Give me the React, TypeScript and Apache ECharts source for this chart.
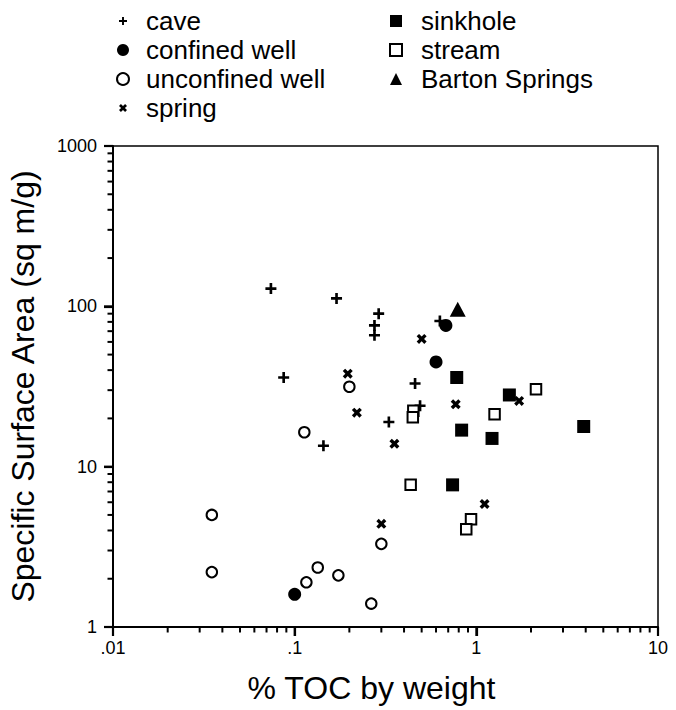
import React, { useEffect, useRef } from 'react';
import * as echarts from 'echarts';

const FONT = '"Liberation Sans", Arial, Helvetica, sans-serif';

// ---- data (x = % TOC by weight, y = specific surface area, sq m/g) ----
const caveX = [0.074, 0.17, 0.29, 0.275, 0.275, 0.087, 0.63, 0.46, 0.49, 0.33, 0.144];
const caveY = [129, 112, 90, 76, 66, 36, 81, 33, 24, 19, 13.5];

const confinedX = [0.68, 0.6, 0.1];
const confinedY = [76, 45, 1.6];

const unconfinedX = [0.2, 0.113, 0.035, 0.3, 0.035, 0.134, 0.116, 0.174, 0.264];
const unconfinedY = [31.5, 16.4, 5.0, 3.3, 2.2, 2.35, 1.9, 2.1, 1.4];

const springX = [0.196, 0.5, 0.22, 0.77, 1.72, 0.354, 0.3, 1.11];
const springY = [38, 62.6, 21.7, 24.5, 25.7, 13.9, 4.4, 5.85];

const sinkholeX = [0.78, 1.52, 0.83, 1.22, 3.9, 0.74];
const sinkholeY = [36, 28, 16.9, 15, 17.8, 7.7];

const streamX = [2.13, 0.45, 0.447, 1.26, 0.435, 0.935, 0.88];
const streamY = [30.4, 22.3, 20.3, 21.2, 7.7, 4.7, 4.07];

const bartonX = [0.79];
const bartonY = [96];

// ---- ticks ----
const xMajorTicks = [0.01, 0.1, 1, 10];
const xTickLabels = ['.01', '.1', '1', '10'];
const xMinorTicks = [
  0.02, 0.03, 0.04, 0.05, 0.06, 0.07, 0.08, 0.09,
  0.2, 0.3, 0.4, 0.5, 0.6, 0.7, 0.8, 0.9,
  2, 3, 4, 5, 6, 7, 8, 9,
];
const yMajorTicks = [1, 10, 100, 1000];
const yTickLabels = ['1', '10', '100', '1000'];
const yMinorTicks = [
  2, 3, 4, 5, 6, 7, 8, 9,
  20, 30, 40, 50, 60, 70, 80, 90,
  200, 300, 400, 500, 600, 700, 800, 900,
];

const legendCol1 = ['cave', 'confined well', 'unconfined well', 'spring'];
const legendCol2 = ['sinkhole', 'stream', 'Barton Springs'];

const PLUS = 'path://M3.8,0H6.2V3.8H10V6.2H6.2V10H3.8V6.2H0V3.8H3.8Z';
const CROSS = 'path://M0,2.4L2.4,0L5,2.6L7.6,0L10,2.4L7.4,5L10,7.6L7.6,10L5,7.4L2.4,10L0,7.6L2.6,5Z';
const PLUS_LEG = 'path://M-2.5,-2.5M12.5,12.5M3.8,0H6.2V3.8H10V6.2H6.2V10H3.8V6.2H0V3.8H3.8Z';
const CROSS_LEG = 'path://M-2.5,-2.5M12.5,12.5M0,2.4L2.4,0L5,2.6L7.6,0L10,2.4L7.4,5L10,7.6L7.6,10L5,7.4L2.4,10L0,7.6L2.6,5Z';

function pairs(xs: number[], ys: number[]) {
  return xs.map((x, i) => [x, ys[i]]);
}

function tickLabel(v: number, values: number[], labels: string[]) {
  let best = 0;
  let bd = Infinity;
  for (let i = 0; i < values.length; i++) {
    const d = Math.abs(Math.log(v) - Math.log(values[i]));
    if (d < bd) {
      bd = d;
      best = i;
    }
  }
  return labels[best];
}

export default function App() {
  const ref = useRef<HTMLDivElement>(null);

  useEffect(() => {
    if (!ref.current) return;
    const chart = echarts.init(ref.current, undefined, { renderer: 'svg' });

    const black = '#000';
    const legendCommon = {
      orient: 'vertical',
      top: 7,
      itemWidth: 12,
      itemHeight: 12,
      itemGap: 1,
      padding: 0,
      selectedMode: false,
    };

    // tick marks drawn as filled rects, positioned through the axis scales
    const xTickSeries = (vals: number[], len: number) => ({
      type: 'custom', silent: true, clip: false, z: 10,
      data: vals.map((v) => [v, 1]),
      renderItem: (params: any, api: any) => {
        const p = api.coord([api.value(0), api.value(1)]);
        return { type: 'rect', shape: { x: p[0] - 1, y: p[1], width: 2, height: len }, style: { fill: black } };
      },
    });
    const yTickSeries = (vals: number[], len: number) => ({
      type: 'custom', silent: true, clip: false, z: 10,
      data: vals.map((v) => [0.01, v]),
      renderItem: (params: any, api: any) => {
        const p = api.coord([api.value(0), api.value(1)]);
        return { type: 'rect', shape: { x: p[0] - len, y: p[1] - 1, width: len, height: 2 }, style: { fill: black } };
      },
    });

    const option: any = {
      animation: false,
      backgroundColor: '#fff',
      grid: {
        left: 113, right: 18, top: 146, bottom: 83,
        containLabel: false, outerBoundsMode: 'none',
        show: true, borderColor: black, borderWidth: 1.5, backgroundColor: 'transparent',
      },
      legend: [
        {
          ...legendCommon,
          left: 116,
          textStyle: { fontSize: 26, fontFamily: FONT, color: black, lineHeight: 28, padding: [0, 0, 0, 12] },
          data: [
            { name: legendCol1[0], icon: PLUS_LEG },
            { name: legendCol1[1], icon: 'circle' },
            { name: legendCol1[2], icon: 'circle' },
            { name: legendCol1[3], icon: CROSS_LEG },
          ],
        },
        {
          ...legendCommon,
          left: 389,
          textStyle: { fontSize: 26, fontFamily: FONT, color: black, lineHeight: 28, padding: [0, 0, 0, 14] },
          data: [
            { name: legendCol2[0], icon: 'rect' },
            { name: legendCol2[1], icon: 'rect' },
            { name: legendCol2[2], icon: 'triangle' },
          ],
        },
      ],
      xAxis: {
        type: 'log', logBase: 10, min: 0.01, max: 10, interval: 1,
        name: '% TOC by weight',
        nameLocation: 'middle',
        nameGap: 45,
        nameTextStyle: { fontSize: 32, fontFamily: FONT, color: black, padding: [0, 28, 0, 0] },
        axisLine: { show: true, lineStyle: { color: black, width: 2 } },
        axisTick: { show: true, length: 9, lineStyle: { color: black, width: 2.2 } },
        axisLabel: {
          show: true, margin: 12, color: black, fontSize: 18, fontFamily: FONT,
          formatter: (v: number) => tickLabel(v, xMajorTicks, xTickLabels),
        },
        splitLine: { show: false },
      },
      yAxis: {
        type: 'log', logBase: 10, min: 1, max: 1000, interval: 1,
        name: 'Specific Surface Area (sq m/g)',
        nameLocation: 'middle',
        nameGap: 74,
        nameRotate: 90,
        nameTextStyle: { fontSize: 32, fontFamily: FONT, color: black },
        axisLine: { show: true, lineStyle: { color: black, width: 2 } },
        axisTick: { show: true, length: 9, lineStyle: { color: black, width: 2.2 } },
        axisLabel: {
          show: true, margin: 16, color: black, fontSize: 18, fontFamily: FONT,
          formatter: (v: number) => tickLabel(v, yMajorTicks, yTickLabels),
        },
        splitLine: { show: false },
      },
      series: [
        xTickSeries(xMajorTicks, 9),
        xTickSeries(xMinorTicks, 5.5),
        yTickSeries(yMajorTicks, 9),
        yTickSeries(yMinorTicks, 5.5),
        { name: 'cave', type: 'scatter', data: pairs(caveX, caveY), symbol: PLUS, symbolSize: 11, itemStyle: { color: black, opacity: 1 } },
        { name: 'confined well', type: 'scatter', data: pairs(confinedX, confinedY), symbol: 'circle', symbolSize: 13, itemStyle: { color: black, opacity: 1 } },
        {
          name: 'unconfined well', type: 'scatter', data: pairs(unconfinedX, unconfinedY), symbol: 'circle', symbolSize: 10.5,
          itemStyle: { color: '#fff', borderColor: black, borderWidth: 2, opacity: 1 },
        },
        { name: 'spring', type: 'scatter', data: pairs(springX, springY), symbol: CROSS, symbolSize: 10, itemStyle: { color: black, opacity: 1 } },
        { name: 'sinkhole', type: 'scatter', data: pairs(sinkholeX, sinkholeY), symbol: 'rect', symbolSize: 13, itemStyle: { color: black, opacity: 1 } },
        {
          name: 'stream', type: 'scatter', data: pairs(streamX, streamY), symbol: 'rect', symbolSize: 10.5,
          itemStyle: { color: '#fff', borderColor: black, borderWidth: 2, opacity: 1 },
        },
        { name: 'Barton Springs', type: 'scatter', data: pairs(bartonX, bartonY), symbol: 'triangle', symbolSize: [16, 15], itemStyle: { color: black, opacity: 1 } },
      ],
    };

    chart.setOption(option);
    return () => chart.dispose();
  }, []);

  return <div ref={ref} style={{ position: 'fixed', left: 0, top: 0, width: 676, height: 710, background: '#fff' }} />;
}
